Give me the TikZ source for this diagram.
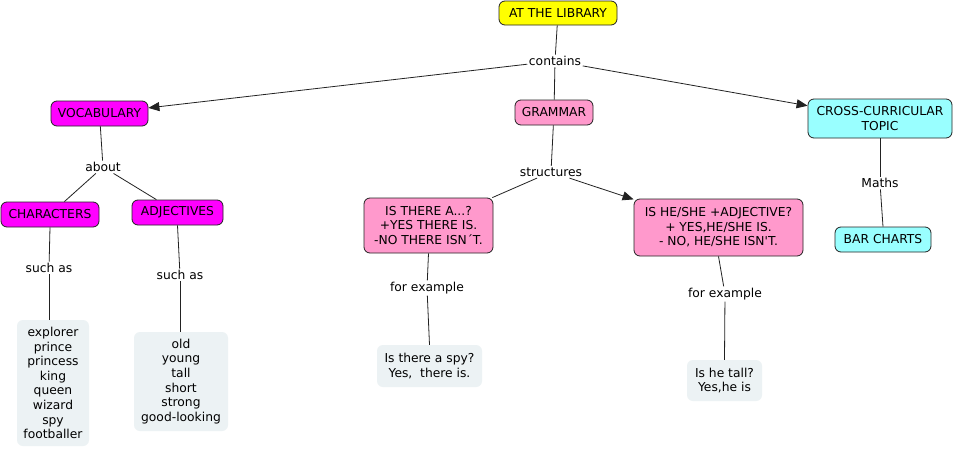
\documentclass[tikz,border=0pt]{standalone}
\usepackage{fontspec}
\newfontfamily\mapfont{DejaVu Sans}
\usetikzlibrary{arrows.meta}
\definecolor{cyel}{HTML}{FFFF00}
\definecolor{cmag}{HTML}{FF00FF}
\definecolor{cpink}{HTML}{FF99CC}
\definecolor{ccyan}{HTML}{99FFFF}
\definecolor{clight}{HTML}{ECF2F4}
\definecolor{cline}{HTML}{222222}
\begin{document}
\begin{tikzpicture}[x=1pt,y=-1pt,
  every node/.style={font=\mapfont\fontsize{12.3}{14.6}\selectfont, align=center},
  concept/.style={draw=cline, line width=0.8pt, rounded corners=6pt, inner sep=0pt},
  leaf/.style={fill=clight, rounded corners=6pt, inner sep=0pt},
  lbl/.style={inner sep=1.5pt, fill=white},
  link/.style={draw=cline, line width=0.8pt},
  arr/.style={link, -{Triangle[length=11pt,width=9pt]}}
]
\useasboundingbox[fill=white] (0,0) rectangle (954,450);

\node[concept, fill=cyel, minimum width=118pt, minimum height=24pt] (lib) at (558,13) {AT THE LIBRARY};
\node[lbl] (contains) at (555,61) {contains};
\node[concept, fill=cmag, minimum width=97pt, minimum height=25pt] (vocab) at (99.5,113.5) {VOCABULARY};
\node[concept, fill=cpink, minimum width=78pt, minimum height=25pt] (gram) at (554,112.5) {GRAMMAR};
\node[concept, fill=ccyan, minimum width=144pt, minimum height=39pt] (cross) at (880,118.5) {CROSS-CURRICULAR\\TOPIC};

\node[lbl] (about) at (103,167) {about};
\node[concept, fill=cmag, minimum width=98pt, minimum height=25pt] (chars) at (50,214.5) {CHARACTERS};
\node[concept, fill=cmag, minimum width=91pt, minimum height=25pt] (adj) at (177.5,212.5) {ADJECTIVES};

\node[lbl] (such1) at (49,268) {such as};
\node[lbl] (such2) at (180,275) {such as};
\node[leaf, minimum width=72pt, minimum height=126pt] (list1) at (53,383) {explorer\\prince\\princess\\king\\queen\\wizard\\spy\\footballer};
\node[leaf, minimum width=94pt, minimum height=99pt] (list2) at (181,381.5) {old\\young\\tall\\short\\strong\\good-looking};

\node[lbl] (struct) at (551,172) {structures};
\node[concept, fill=cpink, minimum width=129pt, minimum height=55pt] (there) at (428.5,225.5) {IS THERE A...?\\+YES THERE IS.\\-NO THERE ISN´T.};
\node[concept, fill=cpink, minimum width=169pt, minimum height=57pt] (ishe) at (718.5,227.5) {IS HE/SHE +ADJECTIVE?\\+ YES,HE/SHE IS.\\- NO, HE/SHE ISN'T.};

\node[lbl] (ex1) at (427,288) {for example};
\node[lbl] (ex2) at (725,294) {for example};
\node[leaf, minimum width=105pt, minimum height=42pt] (spy) at (429.5,366) {Is there a spy?\\Yes,\ \ there is.};
\node[leaf, minimum width=75pt, minimum height=41pt] (tall) at (724.5,380.5) {Is he tall?\\Yes,he is};

\node[lbl] (maths) at (880,183) {Maths};
\node[concept, fill=ccyan, minimum width=96pt, minimum height=25pt] (bar) at (883,239.5) {BAR CHARTS};

\path[link] (lib) -- (contains);
\path[link] (contains) -- (gram);
\path[arr] (contains) -- (vocab);
\path[arr] (contains) -- (cross);

\path[link] (vocab) -- (about);
\path[link] (about) -- (chars);
\path[link] (about) -- (adj);

\path[link] (chars.south) -- (such1);
\path[link] (such1) -- (list1.north -| such1);
\path[link] (adj.south) -- (such2);
\path[link] (such2) -- (list2.north -| such2);

\path[link] (gram) -- (struct);
\path[link] (struct) -- (there);
\path[arr] (struct) -- (ishe);

\path[link] (there.south) -- (ex1);
\path[link] (ex1) -- (spy.north);
\path[link] (ishe.south) -- (ex2);
\path[link] (ex2) -- (tall.north);

\path[link] (cross.south) -- (maths);
\path[link] (maths) -- (bar.north);
\end{tikzpicture}
\end{document}
